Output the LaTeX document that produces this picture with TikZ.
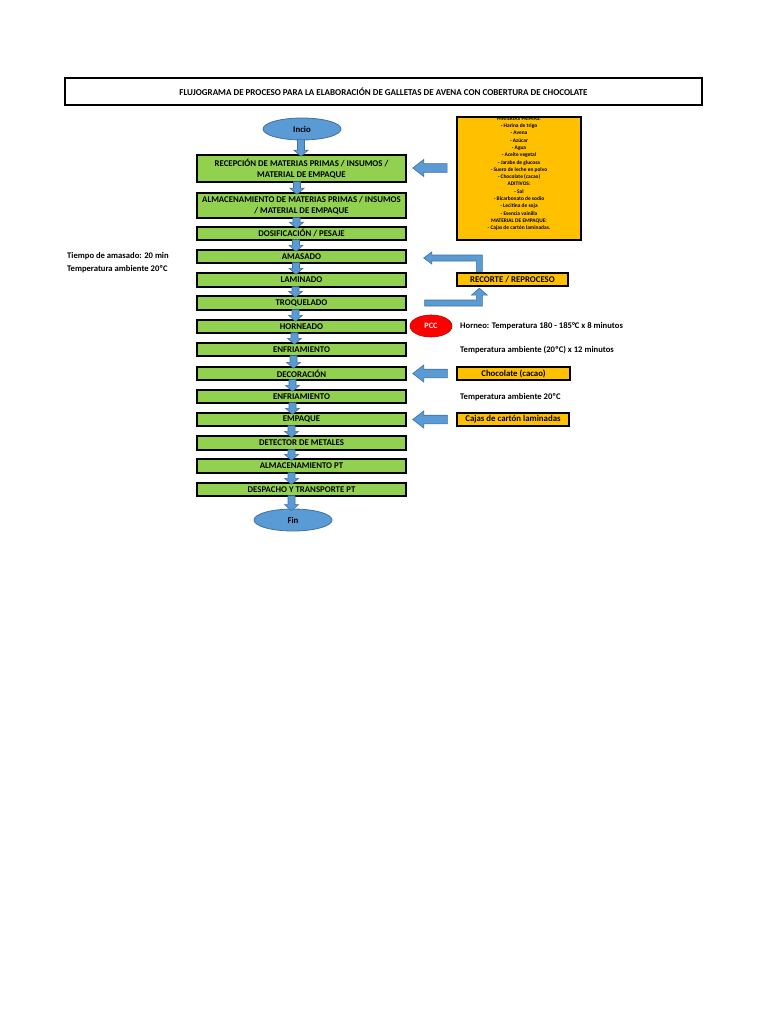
\documentclass[tikz,border=0pt]{standalone}
\usepackage{fontspec}
\setmainfont{Carlito}
\usetikzlibrary{calc,shapes.geometric}
\definecolor{gr}{HTML}{92D050}
\definecolor{og}{HTML}{FFC000}
\definecolor{bl}{HTML}{5B9BD5}
\definecolor{bld}{HTML}{41719C}
\definecolor{rd}{HTML}{FF0000}
\definecolor{rdd}{HTML}{C00000}
\newcommand\darrow[3]{%
  \filldraw[barrow] ($(#1.south)+(#3-3.5,-1)$) -- ($(#1.south)+(#3+3.5,-1)$)
   -- ($(#1.south |- #2.north)+(#3+3.5,-4)$) -- ($(#1.south |- #2.north)+(#3+7,-4)$)
   -- ($(#1.south |- #2.north)+(#3,2)$) -- ($(#1.south |- #2.north)+(#3-7,-4)$)
   -- ($(#1.south |- #2.north)+(#3-3.5,-4)$) -- cycle;}
\newcommand\larrow[2]{% tail coordinate #1, tip coordinate #2
  \filldraw[barrow] ($(#1)+(0,-4.3)$) -- ($(#2)+(11,-4.3)$) -- ($(#2)+(11,-8.5)$)
   -- (#2) -- ($(#2)+(11,8.5)$) -- ($(#2)+(11,4.3)$) -- ($(#1)+(0,4.3)$) -- cycle;}
\begin{document}
\begin{tikzpicture}[x=1pt,y=-1pt,
  stepbox/.style={draw=black, line width=1.4pt, fill=gr, minimum width=209pt,
    inner sep=0pt, align=center, font=\bfseries\fontsize{8.8}{11}\selectfont},
  obox/.style={draw=black, line width=1.3pt, fill=og, inner sep=0pt, align=center,
    minimum height=13pt, font=\bfseries\fontsize{8.8}{10}\selectfont},
  term/.style={ellipse, draw=bld, line width=0.8pt, fill=bl, minimum width=78pt, minimum height=22pt,
    inner sep=0pt, font=\bfseries\fontsize{8.8}{10}\selectfont},
  barrow/.style={fill=bl, draw=bld, line width=0.6pt, line join=miter},
  note/.style={anchor=west, inner sep=0pt, font=\bfseries\fontsize{8.6}{10}\selectfont},
  ing/.style={inner sep=0pt, anchor=base, font=\bfseries\fontsize{5.4}{6}\selectfont}]
\useasboundingbox (0,0) rectangle (768,1024);
\fill[white] (0,0) rectangle (768,1024);

% title
\node[draw=black, line width=1.5pt, minimum width=637pt, minimum height=27pt, inner sep=0pt,
  font=\bfseries\fontsize{9}{10}\selectfont] (title) at (383.5,91.5)
  {FLUJOGRAMA DE PROCESO PARA LA ELABORACIÓN DE GALLETAS DE AVENA CON COBERTURA DE CHOCOLATE};

% terminals
\node[term] (ini) at (302,129) {Incio};
\node[term] (fin) at (293,520) {Fin};

% steps
\node[stepbox, minimum height=27pt] (rec) at (301.5,168.5) {RECEPCIÓN DE MATERIAS PRIMAS / INSUMOS /\\MATERIAL DE EMPAQUE};
\node[stepbox, minimum height=25pt] (alm) at (301.5,205.5) {ALMACENAMIENTO DE MATERIAS PRIMAS / INSUMOS\\/ MATERIAL DE EMPAQUE};
\node[stepbox, minimum height=13pt] (dos) at (301.5,233.5) {DOSIFICACIÓN / PESAJE};
\node[stepbox, minimum height=13pt] (ama) at (301.5,256.5) {AMASADO};
\node[stepbox, minimum height=14pt] (lam) at (301.5,280) {LAMINADO};
\node[stepbox, minimum height=14pt] (tro) at (301.5,303) {TROQUELADO};
\node[stepbox, minimum height=13pt] (hor) at (301.5,326.5) {HORNEADO};
\node[stepbox, minimum height=13pt] (enfa) at (301.5,349.5) {ENFRIAMIENTO};
\node[stepbox, minimum height=13pt] (dec) at (301.5,373.5) {DECORACIÓN};
\node[stepbox, minimum height=13pt] (enfb) at (301.5,396.5) {ENFRIAMIENTO};
\node[stepbox, minimum height=13pt] (emp) at (301.5,419.5) {EMPAQUE};
\node[stepbox, minimum height=14pt] (det) at (301.5,443) {DETECTOR DE METALES};
\node[stepbox, minimum height=14pt] (apt) at (301.5,466) {ALMACENAMIENTO PT};
\node[stepbox, minimum height=13pt] (des) at (301.5,489.5) {DESPACHO Y TRANSPORTE PT};

% down arrows
\darrow{ini}{rec}{-1}
\darrow{rec}{alm}{-4.5}
\darrow{alm}{dos}{-5}
\darrow{dos}{ama}{-5.5}
\darrow{ama}{lam}{-5.5}
\darrow{lam}{tro}{-6}
\darrow{tro}{hor}{-6}
\darrow{hor}{enfa}{-7}
\darrow{enfa}{dec}{-8}
\darrow{dec}{enfb}{-9}
\darrow{enfb}{emp}{-9}
\darrow{emp}{det}{-10}
\darrow{det}{apt}{-10}
\darrow{apt}{des}{-10}
\darrow{des}{fin}{-10}

% ingredients box
\node[draw=black, line width=1.8pt, fill=og, minimum width=124pt, minimum height=123pt, inner sep=0pt] (ingb) at (519,178.5) {};
\begin{scope}
\clip ($(ingb.north west)+(0.9,0.9)$) rectangle ($(ingb.south east)+(-0.9,-0.9)$);
\node[ing] (i0) at (519,120.3) {MATERIAS PRIMAS:};
\end{scope}
\node[ing] (i1) at (519,127.6) {- Harina de trigo};
\node[ing] (i2) at (519,134.9) {- Avena};
\node[ing] (i3) at (519,142.2) {- Azúcar};
\node[ing] (i4) at (519,149.5) {- Agua};
\node[ing] (i5) at (519,156.8) {- Aceite vegetal};
\node[ing] (i6) at (519,164.1) {- Jarabe de glucosa};
\node[ing] (i7) at (519,171.4) {- Suero de leche en polvo};
\node[ing] (i8) at (519,178.7) {- Chocolate (cacao)};
\node[ing] (i9) at (519,186) {ADITIVOS:};
\node[ing] (i10) at (519,193.3) {- Sal};
\node[ing] (i11) at (519,200.6) {- Bicarbonato de sodio};
\node[ing] (i12) at (519,207.9) {- Lecitina de soja};
\node[ing] (i13) at (519,215.2) {- Esencia vainilla};
\node[ing] (i14) at (519,222.5) {MATERIAL DE EMPAQUE:};
\node[ing] (i15) at (519,229.8) {- Cajas de cartón laminadas.};

% side boxes
\node[obox, minimum width=111pt] (recorte) at (512.5,279.5) {RECORTE / REPROCESO};
\node[obox, minimum width=113pt] (choc) at (513.5,373.5) {Chocolate (cacao)};
\node[obox, minimum width=112pt] (cajas) at (513,419.5) {Cajas de cartón laminadas};

% PCC
\node[ellipse, draw=rdd, line width=0.6pt, fill=rd, minimum width=42pt, minimum height=22pt, inner sep=0pt,
  text=white, font=\bfseries\fontsize{8.2}{9}\selectfont] (pcc) at (431,326) {PCC};

% notes
\node[note] (n1) at (67,256) {Tiempo de amasado: 20 min};
\node[note] (n2) at (67,269) {Temperatura ambiente 20ºC};
\node[note] (n3) at (460,326) {Horneo: Temperatura 180 - 185°C x 8 minutos};
\node[note] (n4) at (460,350) {Temperatura ambiente (20ºC) x 12 minutos};
\node[note] (n5) at (460,397) {Temperatura ambiente 20ºC};

% left block arrows
\coordinate (la1) at ($(ingb.west |- rec.east)+(-9,-0.5)$);
\coordinate (lb1) at ($(rec.east)+(6,-0.5)$);
\larrow{la1}{lb1}
\coordinate (la2) at ($(choc.west)+(-9,0)$);
\coordinate (lb2) at ($(dec.east)+(6,0)$);
\larrow{la2}{lb2}
\coordinate (la3) at ($(cajas.west)+(-9,0)$);
\coordinate (lb3) at ($(emp.east)+(6,0)$);
\larrow{la3}{lb3}

% bent arrows (reprocess loop)
\coordinate (t1) at ($(ama.east)+(17,1.5)$);
\coordinate (c1) at ($(recorte.north west)+(23,-1)$);
\filldraw[barrow] ($(c1)+(3,0)$) -- ($(c1 |- t1)+(3,-3)$) -- ($(t1)+(8,-3)$) -- ($(t1)+(8,-6)$)
  -- (t1) -- ($(t1)+(8,6)$) -- ($(t1)+(8,3)$) -- ($(c1 |- t1)+(-3,3)$) -- ($(c1)+(-3,0)$) -- cycle;
\coordinate (s2) at ($(tro.east)+(18,0)$);
\coordinate (t2) at ($(recorte.south west)+(23,1.5)$);
\filldraw[barrow] ($(s2)+(0,-3)$) -- ($(s2 -| t2)+(-3,-3)$) -- ($(t2)+(-3,7)$) -- ($(t2)+(-8,7)$)
  -- (t2) -- ($(t2)+(8,7)$) -- ($(t2)+(3,7)$) -- ($(s2 -| t2)+(3,3)$) -- ($(s2)+(0,3)$) -- cycle;
\end{tikzpicture}
\end{document}
